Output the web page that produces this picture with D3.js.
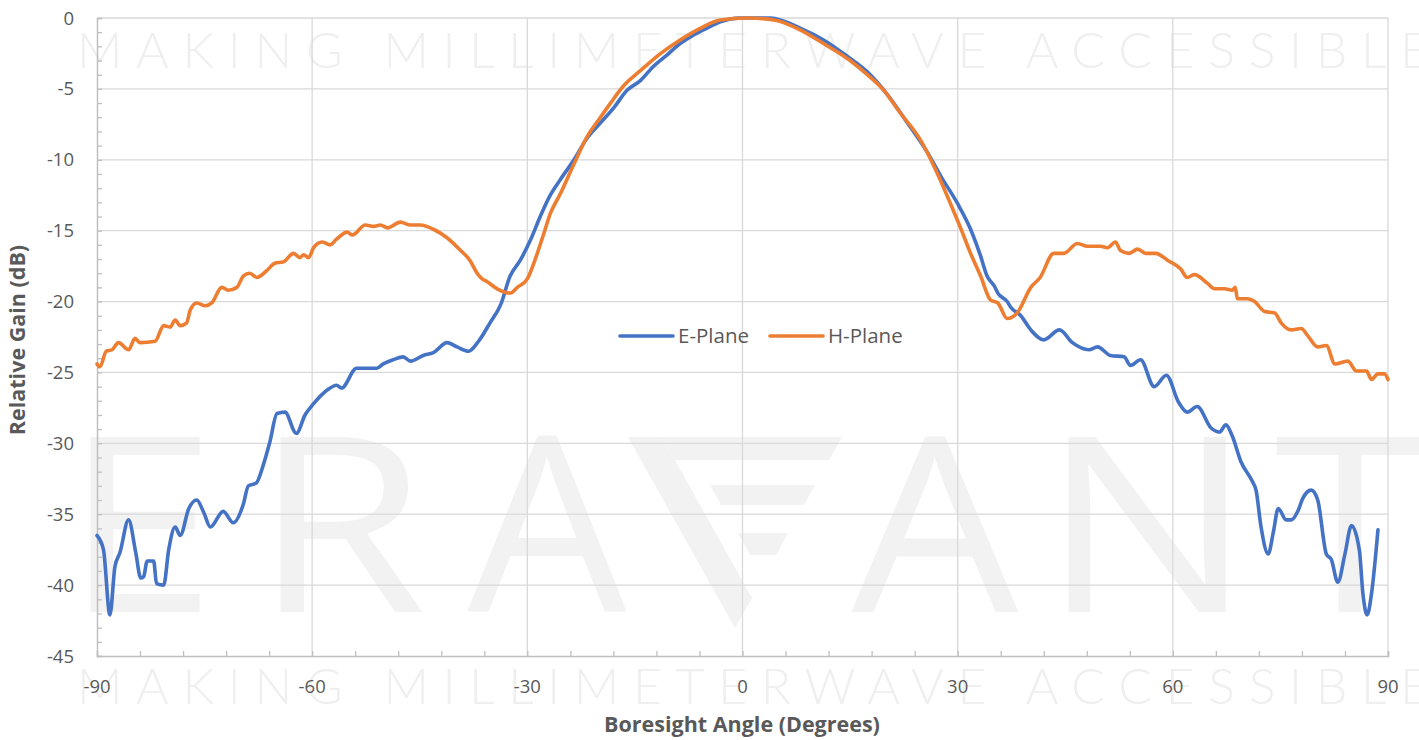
<!DOCTYPE html>
<html>
<head>
<meta charset="utf-8">
<script src="https://cdn.jsdelivr.net/npm/d3@7"></script>
<style>
  html, body { margin: 0; padding: 0; background: #ffffff; }
  svg { display: block; font-family: "Open Sans", "Noto Sans", sans-serif; }
</style>
</head>
<body>
<svg id="chart" width="1419" height="740"></svg>
<script>
// Boresight angle (degrees) and relative gain (dB) for each plane
const eAngle = [-90.0,-89.1,-88.2,-87.5,-86.8,-85.6,-84.6,-83.9,-83.5,-83.0,-82.1,-81.7,-80.7,-80.0,-79.1,-78.4,-77.2,-76.1,-75.1,-74.2,-72.4,-71.0,-69.6,-68.9,-67.8,-66.8,-65.9,-64.9,-63.8,-62.2,-61.0,-59.8,-57.8,-56.6,-55.9,-53.8,-52.4,-51.0,-50.1,-48.7,-47.3,-46.3,-44.5,-43.1,-41.2,-39.8,-38.2,-36.8,-35.2,-33.7,-32.4,-31.0,-29.6,-28.2,-26.8,-25.4,-23.5,-21.7,-19.8,-17.9,-16.1,-14.2,-12.4,-10.5,-8.7,-6.8,-4.9,-3.1,-0.3,3.9,8.1,11.3,14.6,17.4,20.2,23.0,25.8,27.7,30.0,31.8,33.2,34.1,35.1,35.6,36.9,37.4,38.8,40.2,42.0,44.2,46.0,48.3,49.5,51.3,53.2,54.1,55.5,57.4,59.1,60.8,62.0,63.4,65.3,66.5,67.4,68.3,69.5,71.1,71.6,72.3,73.3,74.0,74.7,75.8,76.5,77.5,78.1,79.3,80.2,81.4,82.1,83.0,84.0,84.9,86.0,86.5,87.1,87.7,88.6];
const eGain = [-36.5,-37.5,-42.1,-38.7,-37.7,-35.4,-37.7,-39.5,-39.4,-38.3,-38.3,-39.9,-40.0,-37.5,-35.9,-36.5,-34.6,-34.0,-34.9,-35.9,-34.8,-35.6,-34.3,-33.0,-32.8,-31.5,-29.9,-27.9,-27.8,-29.3,-28.0,-27.2,-26.2,-25.9,-26.1,-24.7,-24.7,-24.7,-24.4,-24.1,-23.9,-24.2,-23.8,-23.6,-22.9,-23.2,-23.5,-22.8,-21.5,-20.2,-18.2,-17.1,-15.7,-14.0,-12.5,-11.4,-10.0,-8.5,-7.4,-6.3,-5.1,-4.4,-3.4,-2.6,-1.8,-1.2,-0.7,-0.26,0,0,-0.73,-1.55,-2.7,-3.8,-5.4,-7.4,-9.5,-11.2,-13.1,-14.9,-16.8,-18.2,-18.9,-19.4,-20.0,-20.4,-21.0,-22.0,-22.7,-22.0,-22.9,-23.4,-23.2,-23.8,-23.9,-24.5,-24.1,-26.0,-25.2,-27.1,-27.8,-27.4,-28.9,-29.2,-28.7,-29.5,-31.3,-32.7,-33.3,-35.9,-37.8,-36.3,-34.6,-35.4,-35.4,-34.7,-33.9,-33.3,-34.0,-37.8,-38.2,-39.8,-37.8,-35.8,-37.5,-40.6,-42.1,-40.6,-36.1];

const hAngle = [-90.0,-89.6,-88.7,-87.9,-87.0,-85.6,-84.7,-84.0,-81.9,-80.7,-79.8,-79.1,-78.4,-77.5,-77.0,-76.1,-74.9,-74.0,-72.6,-71.7,-70.5,-69.6,-68.7,-67.7,-66.3,-65.2,-64.0,-62.6,-61.7,-61.2,-60.5,-59.8,-58.6,-57.5,-56.6,-55.1,-54.4,-52.6,-51.4,-50.5,-49.5,-47.7,-46.3,-44.9,-43.1,-41.2,-39.3,-38.0,-37.0,-36.3,-35.6,-34.2,-32.4,-31.4,-30.0,-29.1,-27.7,-26.8,-25.4,-23.5,-21.7,-19.8,-18.4,-16.6,-14.2,-11.4,-8.7,-5.9,-3.1,0.7,4.4,8.1,11.3,15.0,17.4,19.7,22.0,24.8,27.2,29.0,30.4,31.8,33.2,34.6,35.6,36.9,38.3,40.2,41.5,43.4,44.8,46.7,48.1,49.9,50.9,52.0,52.7,53.9,55.1,56.2,57.6,59.3,61.1,62.0,63.0,64.8,65.8,67.2,68.3,68.7,69.0,70.4,71.4,72.8,74.2,75.1,76.5,77.9,78.8,80.2,81.4,82.6,84.4,85.6,87.0,87.7,88.6,89.5,90.0];
const hGain = [-24.4,-24.6,-23.5,-23.4,-22.9,-23.4,-22.6,-22.9,-22.8,-21.7,-21.8,-21.3,-21.7,-21.5,-20.6,-20.1,-20.3,-20.1,-19.0,-19.2,-19.0,-18.2,-18.0,-18.3,-17.8,-17.3,-17.2,-16.6,-16.9,-16.7,-16.9,-16.2,-15.8,-16.0,-15.6,-15.1,-15.3,-14.6,-14.7,-14.6,-14.8,-14.4,-14.6,-14.6,-14.9,-15.5,-16.4,-17.1,-18.0,-18.4,-18.6,-19.1,-19.4,-19.0,-18.4,-17.3,-15.2,-13.8,-12.4,-10.3,-8.4,-7.0,-6.0,-4.8,-3.7,-2.5,-1.55,-0.73,-0.14,0,-0.14,-0.85,-1.8,-3.0,-4.0,-5.1,-6.7,-8.6,-11.0,-13.1,-14.8,-16.6,-18.2,-19.9,-20.1,-21.2,-20.8,-19.0,-18.3,-16.6,-16.6,-15.9,-16.1,-16.1,-16.2,-15.8,-16.4,-16.6,-16.3,-16.6,-16.6,-17.1,-17.7,-18.3,-18.1,-18.7,-19.1,-19.1,-19.2,-19.0,-19.8,-19.8,-20.0,-20.7,-20.8,-21.5,-22.0,-21.9,-22.4,-23.2,-23.1,-24.4,-24.2,-24.9,-24.9,-25.5,-25.1,-25.1,-25.5];

const xTicks = [-90, -60, -30, 0, 30, 60, 90];
const yTicks = [0, -5, -10, -15, -20, -25, -30, -35, -40, -45];
const seriesNames = ["E-Plane", "H-Plane"];
const seriesColors = ["#4472C4", "#ED7D31"];

const svg = d3.select("#chart");
const x = d3.scaleLinear().domain([-90, 90]).range([97, 1388]);
const y = d3.scaleLinear().domain([-45, 0]).range([656, 18]);

// ---- brand watermark ----
const wm = svg.append("g").attr("class", "watermark");
[68, 704].forEach(base => {
  wm.append("text")
    .attr("x", 77).attr("y", base)
    .attr("textLength", 1352).attr("lengthAdjust", "spacing")
    .attr("font-size", 50).attr("font-weight", 300)
    .attr("fill", "#efefef")
    .style("font-family", "Lato, 'Open Sans', sans-serif")
    .text("MAKING MILLIMETERWAVE ACCESSIBLE");
});
const bigLetters = [
  {ch: "E", cx: 140, sx: 1.12},
  {ch: "R", cx: 340, sx: 1.15},
  {ch: "A", cx: 547, sx: 1.03},
  {ch: "A", cx: 935, sx: 1.08},
  {ch: "N", cx: 1147, sx: 1.15},
  {ch: "T", cx: 1350, sx: 1.12}
];
bigLetters.forEach(l => {
  wm.append("text")
    .attr("transform", `translate(${l.cx},612) scale(${l.sx},1)`)
    .attr("text-anchor", "middle")
    .attr("font-size", 245).attr("font-weight", 500)
    .attr("fill", "#f2f2f2")
    .text(l.ch);
});
// stylised V: left stroke plus three bars inside an inverted triangle
const vPaths = [
  "M628,437 L662,437 L752,598 L735,628 Z",
  "M662,437 L842,437 L829,460 L675,460 Z",
  "M710,485 L815,485 L804,505 L721,505 Z",
  "M738,533 L788,533 L776,555 L750,555 Z"
];
vPaths.forEach(d => wm.append("path").attr("d", d).attr("fill", "#f2f2f2"));

// ---- gridlines ----
const grid = svg.append("g").attr("stroke", "#d9d9d9").attr("stroke-width", 1.3);
yTicks.forEach(v => {
  if (v === -45) return;
  grid.append("line").attr("x1", x(-90)).attr("x2", x(90)).attr("y1", y(v)).attr("y2", y(v));
});
xTicks.forEach(v => {
  if (v === -90) return;
  grid.append("line").attr("x1", x(v)).attr("x2", x(v)).attr("y1", y(0)).attr("y2", y(-45));
});

// ---- axes ----
const axisColor = "#bfbfbf";
const yMinor = d3.range(-45, 1, 1);
const xMinor = d3.range(-90, 91, 6);
const yAxis = svg.append("g").attr("transform", `translate(${x(-90)},0)`)
  .call(d3.axisRight(y).tickValues(yMinor).tickSize(5).tickFormat(""));
const xAxis = svg.append("g").attr("transform", `translate(0,${y(-45)})`)
  .call(d3.axisTop(x).tickValues(xMinor).tickSize(5).tickFormat(""));
[yAxis, xAxis].forEach(g => {
  g.select(".domain").attr("stroke", axisColor).attr("stroke-width", 1.5);
  g.selectAll(".tick line").attr("stroke", axisColor).attr("stroke-width", 1.3);
});

// tick labels
svg.append("g").selectAll("text").data(yTicks).join("text")
  .attr("x", 74).attr("y", d => y(d) + 6.5)
  .attr("text-anchor", "end").attr("font-size", 18.5).attr("fill", "#595959")
  .text(d => d);
svg.append("g").selectAll("text").data(xTicks).join("text")
  .attr("x", d => x(d)).attr("y", 693)
  .attr("text-anchor", "middle").attr("font-size", 18.5).attr("fill", "#595959")
  .text(d => d);

// axis titles
svg.append("text").attr("x", 742).attr("y", 732)
  .attr("text-anchor", "middle").attr("font-size", 21.5).attr("font-weight", 700)
  .attr("fill", "#595959").text("Boresight Angle (Degrees)");
svg.append("text").attr("transform", "translate(25,340) rotate(-90)")
  .attr("text-anchor", "middle").attr("font-size", 21.5).attr("font-weight", 700)
  .attr("fill", "#595959").text("Relative Gain (dB)");

// ---- series ----
const line = d3.line().x(d => x(d[0])).y(d => y(d[1])).curve(d3.curveMonotoneX);
const eData = eAngle.map((a, i) => [a, eGain[i]]);
const hData = hAngle.map((a, i) => [a, hGain[i]]);
[eData, hData].forEach((data, i) => {
  svg.append("path").datum(data)
    .attr("fill", "none").attr("stroke", seriesColors[i])
    .attr("stroke-width", 3.6).attr("stroke-linejoin", "round").attr("stroke-linecap", "round")
    .attr("d", line);
});

// ---- legend ----
const legend = svg.append("g");
const legendX = [620, 770];
seriesNames.forEach((name, i) => {
  legend.append("line")
    .attr("x1", legendX[i]).attr("x2", legendX[i] + 53).attr("y1", 336).attr("y2", 336)
    .attr("stroke", seriesColors[i]).attr("stroke-width", 3.6).attr("stroke-linecap", "round");
  legend.append("text")
    .attr("x", legendX[i] + 58).attr("y", 343)
    .attr("font-size", 20.5).attr("fill", "#595959").text(name);
});
</script>
</body>
</html>
